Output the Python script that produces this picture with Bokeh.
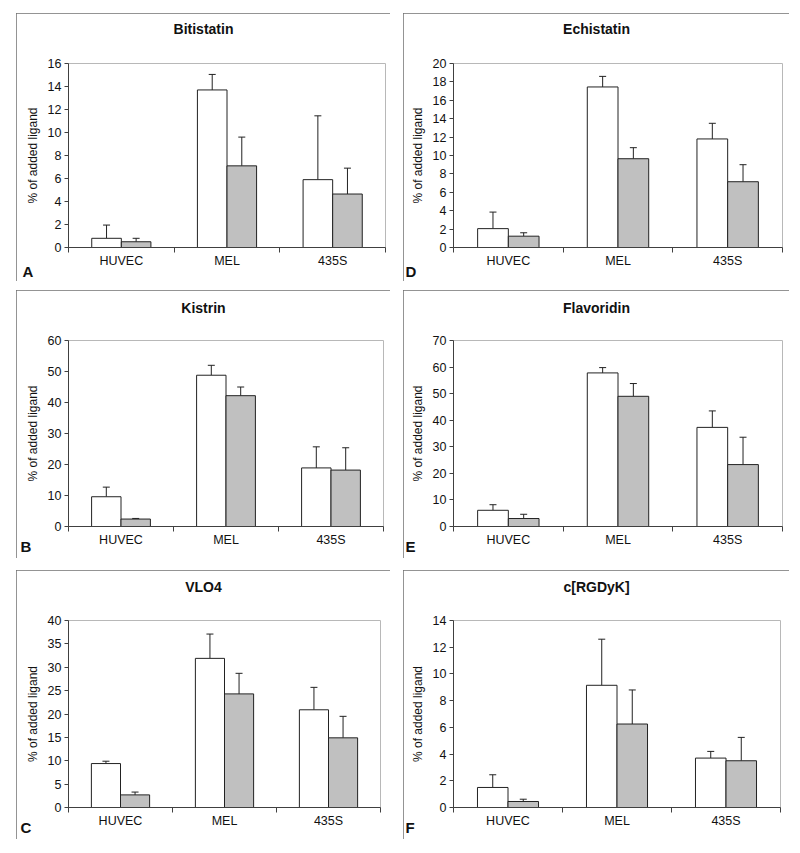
from bokeh.plotting import figure
from bokeh.models import (Range1d, FixedTicker, ColumnDataSource, Whisker, TeeHead, Title,
                          Spacer, LinearAxis)
from bokeh.layouts import row, column
from bokeh.embed import file_html
from bokeh.resources import INLINE

categories = ["HUVEC", "MEL", "435S"]

# Bitistatin (A)
bitistatin_white = [0.8, 13.7, 5.9]
bitistatin_white_err = [1.15, 1.35, 5.55]
bitistatin_gray = [0.5, 7.1, 4.65]
bitistatin_gray_err = [0.3, 2.5, 2.25]

# Echistatin (D)
echistatin_white = [2.05, 17.45, 11.8]
echistatin_white_err = [1.8, 1.15, 1.7]
echistatin_gray = [1.23, 9.65, 7.15]
echistatin_gray_err = [0.37, 1.2, 1.85]

# Kistrin (B)
kistrin_white = [9.6, 48.8, 18.9]
kistrin_white_err = [3.1, 3.2, 6.8]
kistrin_gray = [2.4, 42.2, 18.2]
kistrin_gray_err = [0.2, 2.8, 7.2]

# Flavoridin (E)
flavoridin_white = [6.1, 57.8, 37.3]
flavoridin_white_err = [2.1, 2.0, 6.2]
flavoridin_gray = [3.0, 49.0, 23.3]
flavoridin_gray_err = [1.6, 4.8, 10.3]

# VLO4 (C)
vlo4_white = [9.4, 31.9, 20.9]
vlo4_white_err = [0.5, 5.2, 4.8]
vlo4_gray = [2.7, 24.3, 14.9]
vlo4_gray_err = [0.6, 4.4, 4.6]

# c[RGDyK] (F)
rgdyk_white = [1.5, 9.15, 3.7]
rgdyk_white_err = [0.95, 3.45, 0.5]
rgdyk_gray = [0.45, 6.25, 3.5]
rgdyk_gray_err = [0.17, 2.55, 1.75]

y_max = {"A": 16, "D": 20, "B": 60, "E": 70, "C": 40, "F": 14}
y_step = {"A": 2, "D": 2, "B": 10, "E": 10, "C": 5, "F": 2}

FONT = "Liberation Sans"
DARK = "#222222"
AXIS = "#404040"
TITLE_PX = 14

# approximate advance widths (per 1000 em) of the bold sans face, used to centre titles on the panel box
BOLD_W = {"B": 722, "i": 278, "t": 333, "s": 556, "a": 556, "n": 611, "E": 667, "c": 556,
          "h": 611, "K": 722, "r": 389, "F": 611, "l": 278, "v": 556, "o": 611, "d": 611,
          "V": 667, "L": 611, "O": 778, "4": 556, "[": 333, "R": 722, "G": 778, "D": 722,
          "y": 556, "]": 333}


def text_width(s, px):
    return sum(BOLD_W.get(ch, 600) for ch in s) * px / 1000.0


def make_panel(title, letter, white, white_err, gray, gray_err, ymax, ystep,
               w, h, bl, br, bt, bb, lx, tgap, lstand):
    p = figure(width=w, height=h, x_range=Range1d(0.5, 3.5), y_range=Range1d(0, ymax),
               output_backend="svg", toolbar_location=None,
               min_border_left=bl, min_border_right=br, min_border_top=bt, min_border_bottom=bb)
    xa = p.below[0]
    ya = p.left[0]

    # invisible spacer axis between the frame and the title (one hidden tick gives it its size)
    sp = LinearAxis(ticker=FixedTicker(ticks=[2], minor_ticks=[]), axis_line_color=None,
                    major_tick_line_color=None, minor_tick_line_color=None,
                    major_tick_out=tgap, major_tick_in=0, minor_tick_out=0, minor_tick_in=0,
                    major_label_standoff=0, major_label_overrides={2: ""})
    p.add_layout(sp, "above")
    tw = text_width(title, TITLE_PX)
    p.add_layout(Title(text=title, align="left", offset=w / 2.0 - bl - tw / 2.0,
                       text_font=FONT, text_font_size=f"{TITLE_PX}px",
                       text_font_style="bold", text_color="#111111", standoff=0), "above")
    p.xgrid.visible = False
    p.ygrid.visible = False
    p.outline_line_color = "#b8b8b8"
    p.outline_line_width = 1
    p.background_fill_color = "white"
    p.styles = {"outline": "1px solid #707070", "outline-offset": "-1px"}

    n = len(categories)
    xs = [i + 1 for i in range(n)]
    bw = 0.28
    off = bw / 2
    wsrc = ColumnDataSource(dict(x=[x - off for x in xs], top=white,
                                 hi=[v + e for v, e in zip(white, white_err)]))
    gsrc = ColumnDataSource(dict(x=[x + off for x in xs], top=gray,
                                 hi=[v + e for v, e in zip(gray, gray_err)]))
    p.vbar(x="x", top="top", bottom=0, width=bw, source=wsrc,
           fill_color="white", line_color=DARK, line_width=1)
    p.vbar(x="x", top="top", bottom=0, width=bw, source=gsrc,
           fill_color="#c0c0c0", line_color=DARK, line_width=1)
    for src in (wsrc, gsrc):
        p.add_layout(Whisker(source=src, base="x", lower="top", upper="hi",
                             lower_head=None,
                             upper_head=TeeHead(size=7, line_color=DARK, line_width=1),
                             line_color=DARK, line_width=1))

    # x axis: labels at category centres, ticks between categories
    xa.ticker = FixedTicker(ticks=xs, minor_ticks=[0.5 + i for i in range(n + 1)])
    xa.major_label_overrides = {x: c for x, c in zip(xs, categories)}
    xa.major_tick_line_color = None
    xa.major_tick_out = 0
    xa.major_tick_in = 0
    xa.minor_tick_out = 5
    xa.minor_tick_in = 0
    xa.minor_tick_line_color = AXIS
    xa.axis_line_color = AXIS
    xa.major_label_text_font = FONT
    xa.major_label_text_font_size = "12.5px"
    xa.major_label_text_color = "#111111"
    xa.major_label_standoff = 1

    ya.ticker = FixedTicker(ticks=list(range(0, ymax + 1, ystep)), minor_ticks=[])
    ya.axis_label = "% of added ligand"
    ya.axis_label_text_font = FONT
    ya.axis_label_text_font_size = "12px"
    ya.axis_label_text_font_style = "normal"
    ya.axis_label_text_color = "#111111"
    ya.axis_label_standoff = 5
    ya.major_tick_out = 4
    ya.major_tick_in = 0
    ya.minor_tick_line_color = None
    ya.major_tick_line_color = AXIS
    ya.axis_line_color = AXIS
    ya.major_label_text_font = FONT
    ya.major_label_text_font_size = "12.5px"
    ya.major_label_text_color = "#111111"
    ya.major_label_standoff = 3

    # panel letter in the bottom-left corner
    p.add_layout(Title(text=letter, align="left", vertical_align="top", offset=lx - bl,
                       standoff=lstand, text_font=FONT, text_font_size="15px",
                       text_font_style="bold", text_color="#111111"), "below")
    return p


pA = make_panel("Bitistatin", "A", bitistatin_white, bitistatin_white_err, bitistatin_gray,
                bitistatin_gray_err, y_max["A"], y_step["A"], 374, 268, 52, 5, 50, 34, 6, 27, -16)
pD = make_panel("Echistatin", "D", echistatin_white, echistatin_white_err, echistatin_gray,
                echistatin_gray_err, y_max["D"], y_step["D"], 386, 268, 50, 7, 50, 34, 2, 27, -16)
pB = make_panel("Kistrin", "B", kistrin_white, kistrin_white_err, kistrin_gray,
                kistrin_gray_err, y_max["B"], y_step["B"], 374, 268, 52, 7, 50, 32, 4, 25, -24)
pE = make_panel("Flavoridin", "E", flavoridin_white, flavoridin_white_err, flavoridin_gray,
                flavoridin_gray_err, y_max["E"], y_step["E"], 386, 268, 50, 7, 50, 32, 2, 25, -24)
pC = make_panel("VLO4", "C", vlo4_white, vlo4_white_err, vlo4_gray,
                vlo4_gray_err, y_max["C"], y_step["C"], 374, 269, 52, 10, 50, 32, 4, 26, -24)
pF = make_panel("c[RGDyK]", "F", rgdyk_white, rgdyk_white_err, rgdyk_gray,
                rgdyk_gray_err, y_max["F"], y_step["F"], 386, 269, 50, 9, 50, 32, 2, 26, -24)

layout = column(
    Spacer(height=13),
    row(Spacer(width=16), pA, Spacer(width=13), pD),
    Spacer(height=9),
    row(Spacer(width=16), pB, Spacer(width=13), pE),
    Spacer(height=12),
    row(Spacer(width=16), pC, Spacer(width=13), pF),
)

open("out.html", "w").write(file_html(layout, INLINE))
